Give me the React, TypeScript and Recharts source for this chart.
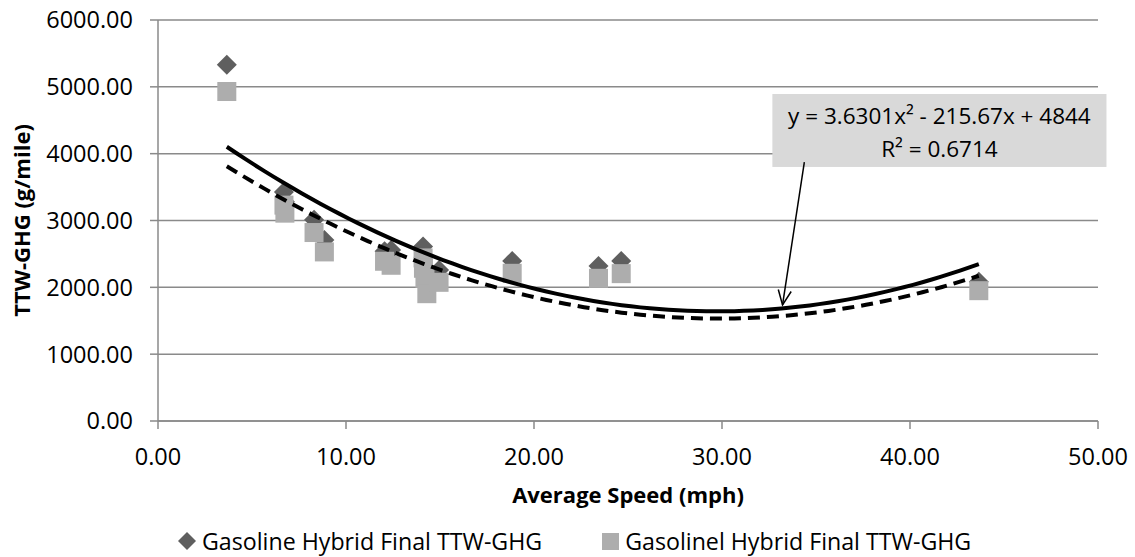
import React from 'react';
import {
  ScatterChart,
  Scatter,
  XAxis,
  YAxis,
  CartesianGrid,
  Legend,
  ReferenceArea,
  ReferenceLine,
} from 'recharts';

// ---------- data ----------
const speeds = [3.66, 6.7, 6.75, 8.3, 8.85, 12.05, 12.4, 14.1, 14.12, 14.2, 14.3, 14.95, 18.84, 23.43, 24.64, 43.66];
const gasolineHybrid = [5330, 3425, 3280, 3010, 2710, 2540, 2560, 2610, 2450, 2300, 2080, 2260, 2395, 2320, 2395, 2085];
const gasolinelHybrid = [4930, 3230, 3110, 2820, 2530, 2390, 2330, 2440, 2285, 2135, 1905, 2075, 2210, 2135, 2205, 1950];
const seriesNames = ['Gasoline Hybrid Final TTW-GHG', 'Gasolinel Hybrid Final TTW-GHG'];
const xTicks = [0, 10, 20, 30, 40, 50];
const yTicks = [0, 1000, 2000, 3000, 4000, 5000, 6000];
const printedCoefficients = [3.6301, -215.67, 4844];
const equationLine = 'y = 3.6301x\u00B2 - 215.67x + 4844';
const rSquaredLine = 'R\u00B2 = 0.6714';
const xTitle = 'Average Speed (mph)';
const yTitle = 'TTW-GHG (g/mile)';

// ---------- helpers ----------
const FONT = '"Open Sans", sans-serif';
const GRID = '#8a8a8a';
const DIAMOND = '#5f5f5f';
const SQUARE = '#adadad';

function fitQuadratic(xs: number[], ys: number[]): number[] {
  let s0 = 0, s1 = 0, s2 = 0, s3 = 0, s4 = 0, t0 = 0, t1 = 0, t2 = 0;
  xs.forEach((x, i) => {
    const y = ys[i];
    s0 += 1; s1 += x; s2 += x * x; s3 += x * x * x; s4 += x * x * x * x;
    t0 += y; t1 += x * y; t2 += x * x * y;
  });
  const det3 = (m: number[][]) =>
    m[0][0] * (m[1][1] * m[2][2] - m[1][2] * m[2][1]) -
    m[0][1] * (m[1][0] * m[2][2] - m[1][2] * m[2][0]) +
    m[0][2] * (m[1][0] * m[2][1] - m[1][1] * m[2][0]);
  const M = [[s4, s3, s2], [s3, s2, s1], [s2, s1, s0]];
  const R = [t2, t1, t0];
  const D = det3(M);
  const col = (k: number) => M.map((row, r) => row.map((v, c) => (c === k ? R[r] : v)));
  return [det3(col(0)) / D, det3(col(1)) / D, det3(col(2)) / D];
}

const poly = (c: number[], x: number) => c[0] * x * x + c[1] * x + c[2];

function trendPoints(coef: number[]) {
  const lo = Math.min(...speeds);
  const hi = Math.max(...speeds);
  const n = 80;
  const pts = [];
  for (let i = 0; i <= n; i++) {
    const x = lo + ((hi - lo) * i) / n;
    pts.push({ x, y: poly(coef, x) });
  }
  return pts;
}

const diamondData = speeds.map((x, i) => ({ x, y: gasolineHybrid[i] }));
const squareData = speeds.map((x, i) => ({ x, y: gasolinelHybrid[i] }));
const solidTrend = trendPoints(printedCoefficients);
const dashedTrend = trendPoints(fitQuadratic(speeds, gasolinelHybrid));

const DiamondShape = (props: any) => {
  const { cx, cy } = props;
  if (cx == null || cy == null) return <g />;
  const r = 10;
  return <polygon points={`${cx},${cy - r} ${cx + r},${cy} ${cx},${cy + r} ${cx - r},${cy}`} fill={DIAMOND} />;
};

const SquareShape = (props: any) => {
  const { cx, cy } = props;
  if (cx == null || cy == null) return <g />;
  const s = 19;
  return <rect x={cx - s / 2} y={cy - s / 2} width={s} height={s} fill={SQUARE} />;
};

const NoShape = () => <g />;

const XTitle = (props: any) => {
  const vb = props.viewBox || {};
  return (
    <text x={vb.x + vb.width / 2} y={503} textAnchor="middle" fontFamily={FONT} fontWeight={700} fontSize={22} fill="#000">
      {xTitle}
    </text>
  );
};

const YTitle = (props: any) => {
  const vb = props.viewBox || {};
  const cx = 21;
  const cy = vb.y + vb.height / 2;
  return (
    <text
      x={cx}
      y={cy}
      transform={`rotate(-90, ${cx}, ${cy})`}
      textAnchor="middle"
      dominantBaseline="central"
      fontFamily={FONT}
      fontWeight={700}
      fontSize={22}
      fill="#000"
    >
      {yTitle}
    </text>
  );
};

const AnnotationBox = (props: any) => {
  const { x, y, width, height } = props;
  const cx = x + width / 2;
  return (
    <g>
      <rect x={x} y={y} width={width} height={height} fill="#d9d9d9" />
      <text x={cx} y={y + 22} textAnchor="middle" dominantBaseline="central" fontFamily={FONT} fontSize={22.5} fill="#000">
        {equationLine}
      </text>
      <text x={cx} y={y + 55} textAnchor="middle" dominantBaseline="central" fontFamily={FONT} fontSize={22.5} fill="#000">
        {rSquaredLine}
      </text>
    </g>
  );
};

const ArrowShape = (props: any) => {
  const { x1, y1, x2, y2 } = props;
  const ang = Math.atan2(y2 - y1, x2 - x1);
  const len = 16;
  const spread = 0.42;
  const ax = x2 - len * Math.cos(ang - spread);
  const ay = y2 - len * Math.sin(ang - spread);
  const bx = x2 - len * Math.cos(ang + spread);
  const by = y2 - len * Math.sin(ang + spread);
  return (
    <g>
      <line x1={x1} y1={y1} x2={x2} y2={y2} stroke="#000" strokeWidth={1.5} />
      <polyline points={`${ax},${ay} ${x2},${y2} ${bx},${by}`} fill="none" stroke="#000" strokeWidth={1.5} />
    </g>
  );
};

const LegendContent = () => (
  <div
    style={{
      display: 'flex',
      alignItems: 'center',
      height: 30,
      lineHeight: '30px',
      fontFamily: FONT,
      fontSize: 23.2,
      color: '#000',
      paddingLeft: 177,
      whiteSpace: 'nowrap',
    }}
  >
    <svg width={20} height={20} style={{ display: 'block' }}>
      <polygon points="10,1 19,10 10,19 1,10" fill={DIAMOND} />
    </svg>
    <span style={{ marginLeft: 5 }}>{seriesNames[0]}</span>
    <svg width={17} height={17} style={{ display: 'block', marginLeft: 60 }}>
      <rect x={0} y={0} width={17} height={17} fill={SQUARE} />
    </svg>
    <span style={{ marginLeft: 6 }}>{seriesNames[1]}</span>
  </div>
);

export default function App() {
  return (
    <div style={{ position: 'absolute', left: 0, top: 0, width: 1135, height: 557, background: '#fff' }}>
      <ScatterChart width={1135} height={557} margin={{ top: 20, right: 37, bottom: 0, left: 0 }}>
        <CartesianGrid vertical={false} stroke={GRID} strokeWidth={1.5} />
        <XAxis
          type="number"
          dataKey="x"
          domain={[0, 50]}
          ticks={xTicks}
          allowDataOverflow
          height={136}
          tickSize={8}
          tickMargin={19}
          tickFormatter={(v: number) => v.toFixed(2)}
          tick={{ fontFamily: FONT, fontSize: 23.5, fill: '#000' }}
          axisLine={{ stroke: GRID, strokeWidth: 1.5 }}
          tickLine={{ stroke: GRID, strokeWidth: 1.5 }}
          label={<XTitle />}
        />
        <YAxis
          type="number"
          dataKey="y"
          domain={[0, 6000]}
          ticks={yTicks}
          allowDataOverflow
          width={158}
          tickSize={8}
          tickMargin={17}
          tickFormatter={(v: number) => v.toFixed(2)}
          tick={{ fontFamily: FONT, fontSize: 23.5, fill: '#000' }}
          axisLine={{ stroke: GRID, strokeWidth: 1.5 }}
          tickLine={{ stroke: GRID, strokeWidth: 1.5 }}
          label={<YTitle />}
        />
        <Scatter name={seriesNames[0]} data={diamondData} shape={DiamondShape} fill={DIAMOND} isAnimationActive={false} />
        <Scatter name={seriesNames[1]} data={squareData} shape={SquareShape} fill={SQUARE} isAnimationActive={false} />
        <Scatter
          data={dashedTrend}
          shape={NoShape}
          fill="#000"
          line={{ stroke: '#000', strokeWidth: 4, strokeDasharray: '12 7', fill: 'none' }}
          lineType="joint"
          legendType="none"
          isAnimationActive={false}
        />
        <Scatter
          data={solidTrend}
          shape={NoShape}
          fill="#000"
          line={{ stroke: '#000', strokeWidth: 4, fill: 'none' }}
          lineType="joint"
          legendType="none"
          isAnimationActive={false}
        />
        <ReferenceArea x1={32.68} x2={50.45} y1={3801} y2={4893} ifOverflow="visible" shape={AnnotationBox} />
        <ReferenceLine
          segment={[{ x: 34.38, y: 3875 }, { x: 33.22, y: 1736 }]}
          ifOverflow="visible"
          shape={ArrowShape}
        />
        <Legend
          layout="horizontal"
          verticalAlign="middle"
          align="center"
          wrapperStyle={{ top: 526, left: 0, width: 1135, height: 30 }}
          content={<LegendContent />}
        />
      </ScatterChart>
    </div>
  );
}
